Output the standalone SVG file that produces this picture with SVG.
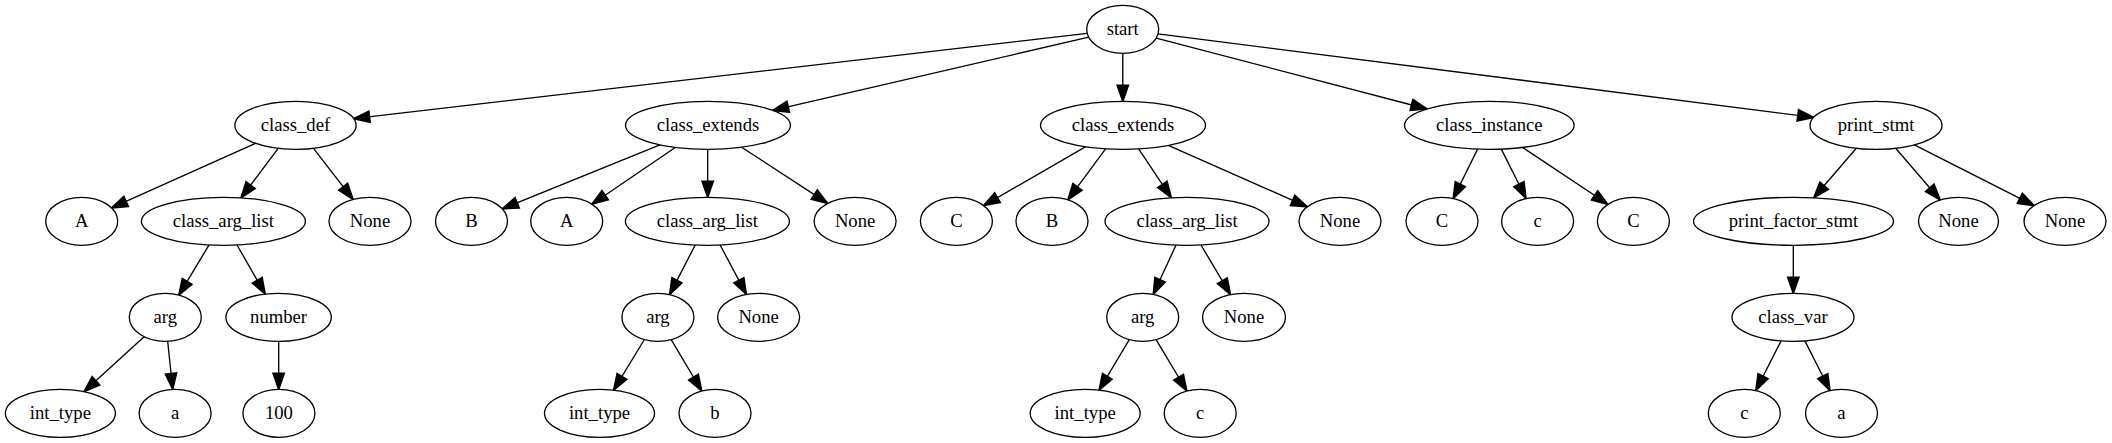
<svg xmlns="http://www.w3.org/2000/svg" width="2112" height="443" viewBox="0 0 2112 443">
<style>
.n ellipse{fill:#fff;stroke:#000;stroke-width:1.33}
.n text{font-family:"Liberation Serif","Times New Roman",serif;font-size:18.67px;text-anchor:middle;fill:#000}
#edges path{fill:none;stroke:#000;stroke-width:1.33;marker-end:url(#ah)}
</style>
<defs>
<marker id="ah" markerUnits="userSpaceOnUse" markerWidth="16" markerHeight="12" viewBox="0 0 13.33 9.33" refX="13.33" refY="4.67" orient="auto" overflow="visible">
<path d="M0,0 L13.33,4.67 L0,9.33 z" fill="#000" stroke="#000" stroke-width="1.33"/>
</marker>
</defs>
<rect width="2112" height="443" fill="#fff"/>
<g id="edges">
<path d="M1087.2,33.4 L353.6,118.6"/>
<path d="M1088.7,37.2 L772.6,110.4"/>
<path d="M1122.8,53.3 L1122.8,101.3"/>
<path d="M1156.2,38.1 L1427,109"/>
<path d="M1158,33.8 L1813.7,117.4"/>
<path d="M255.5,143.3 L111.5,207.9"/>
<path d="M278.2,148.3 L241,197.9"/>
<path d="M313.3,148.2 L353,199.4"/>
<path d="M659.9,144.8 L502.3,208.8"/>
<path d="M675.6,147.3 L591.9,204.2"/>
<path d="M707.7,149.3 L707.7,197.3"/>
<path d="M741.6,147.2 L827.7,203.4"/>
<path d="M1085.8,146.7 L983.6,205.6"/>
<path d="M1105.6,148.8 L1067.9,199.8"/>
<path d="M1138.7,148.8 L1171.3,197.8"/>
<path d="M1168.3,145.4 L1307.3,206.8"/>
<path d="M1477.6,149.1 L1453.2,198.5"/>
<path d="M1501.3,149.1 L1526.1,198.5"/>
<path d="M1522.5,147.4 L1607.9,204.3"/>
<path d="M1856.3,148.2 L1813.7,197.8"/>
<path d="M1895.7,148.2 L1940.2,200"/>
<path d="M1914.4,144.8 L2034.1,205.6"/>
<path d="M209.1,244.9 L178.8,295.1"/>
<path d="M237,245 L265.2,294.1"/>
<path d="M695.2,245 L669.6,294.6"/>
<path d="M720.1,245 L746.4,294.4"/>
<path d="M1176,245.1 L1153.3,294.3"/>
<path d="M1201,245 L1230.5,294.6"/>
<path d="M1793.3,245.3 L1793.3,293.3"/>
<path d="M144.1,336.7 L84.1,391.6"/>
<path d="M167.7,341.2 L172.7,389.4"/>
<path d="M278.7,341.3 L278.7,389.3"/>
<path d="M644.4,339.5 L613.6,390.1"/>
<path d="M671.2,339.6 L701.7,391"/>
<path d="M1129.3,339.6 L1099.1,390.1"/>
<path d="M1156.1,339.6 L1186.8,391"/>
<path d="M1781.1,340.9 L1755.8,390.5"/>
<path d="M1804.9,340.9 L1830,390.5"/>
</g>
<g id="n0" class="n"><ellipse cx="1122.7" cy="29.3" rx="36" ry="24"/><text x="1122.7" y="34.9">start</text></g>
<g id="n1" class="n"><ellipse cx="295.5" cy="125.3" rx="60.6" ry="24"/><text x="295.5" y="130.9">class_def</text></g>
<g id="n2" class="n"><ellipse cx="708" cy="125.3" rx="82.5" ry="24"/><text x="708" y="130.9">class_extends</text></g>
<g id="n3" class="n"><ellipse cx="1123" cy="125.3" rx="82.5" ry="24"/><text x="1123" y="130.9">class_extends</text></g>
<g id="n4" class="n"><ellipse cx="1489.3" cy="125.3" rx="84.8" ry="24"/><text x="1489.3" y="130.9">class_instance</text></g>
<g id="n5" class="n"><ellipse cx="1876" cy="125.3" rx="66" ry="24"/><text x="1876" y="130.9">print_stmt</text></g>
<g id="n6" class="n"><ellipse cx="81.7" cy="221.3" rx="36" ry="24"/><text x="81.7" y="226.9">A</text></g>
<g id="n7" class="n"><ellipse cx="223.4" cy="221.3" rx="82" ry="24"/><text x="223.4" y="226.9">class_arg_list</text></g>
<g id="n8" class="n"><ellipse cx="370" cy="221.3" rx="41" ry="24"/><text x="370" y="226.9">None</text></g>
<g id="n9" class="n"><ellipse cx="471.5" cy="221.3" rx="36" ry="24"/><text x="471.5" y="226.9">B</text></g>
<g id="n10" class="n"><ellipse cx="566.7" cy="221.3" rx="36" ry="24"/><text x="566.7" y="226.9">A</text></g>
<g id="n11" class="n"><ellipse cx="707.4" cy="221.3" rx="82" ry="24"/><text x="707.4" y="226.9">class_arg_list</text></g>
<g id="n12" class="n"><ellipse cx="855.1" cy="221.3" rx="41" ry="24"/><text x="855.1" y="226.9">None</text></g>
<g id="n13" class="n"><ellipse cx="956.4" cy="221.3" rx="36" ry="24"/><text x="956.4" y="226.9">C</text></g>
<g id="n14" class="n"><ellipse cx="1052" cy="221.3" rx="36" ry="24"/><text x="1052" y="226.9">B</text></g>
<g id="n15" class="n"><ellipse cx="1187" cy="221.3" rx="82" ry="24"/><text x="1187" y="226.9">class_arg_list</text></g>
<g id="n16" class="n"><ellipse cx="1340" cy="221.3" rx="41" ry="24"/><text x="1340" y="226.9">None</text></g>
<g id="n17" class="n"><ellipse cx="1442" cy="221.3" rx="36" ry="24"/><text x="1442" y="226.9">C</text></g>
<g id="n18" class="n"><ellipse cx="1537.6" cy="221.3" rx="36" ry="24"/><text x="1537.6" y="226.9">c</text></g>
<g id="n19" class="n"><ellipse cx="1633.4" cy="221.3" rx="36" ry="24"/><text x="1633.4" y="226.9">C</text></g>
<g id="n20" class="n"><ellipse cx="1793.5" cy="221.3" rx="100" ry="24"/><text x="1793.5" y="226.9">print_factor_stmt</text></g>
<g id="n21" class="n"><ellipse cx="1958.5" cy="221.3" rx="40" ry="24"/><text x="1958.5" y="226.9">None</text></g>
<g id="n22" class="n"><ellipse cx="2065" cy="221.3" rx="41" ry="24"/><text x="2065" y="226.9">None</text></g>
<g id="n23" class="n"><ellipse cx="165.3" cy="317.3" rx="36" ry="24"/><text x="165.3" y="322.9">arg</text></g>
<g id="n24" class="n"><ellipse cx="278.6" cy="317.3" rx="52.7" ry="24"/><text x="278.6" y="322.9">number</text></g>
<g id="n25" class="n"><ellipse cx="657.9" cy="317.3" rx="36" ry="24"/><text x="657.9" y="322.9">arg</text></g>
<g id="n26" class="n"><ellipse cx="758.6" cy="317.3" rx="41" ry="24"/><text x="758.6" y="322.9">None</text></g>
<g id="n27" class="n"><ellipse cx="1142.7" cy="317.3" rx="36" ry="24"/><text x="1142.7" y="322.9">arg</text></g>
<g id="n28" class="n"><ellipse cx="1244" cy="317.3" rx="41.5" ry="24"/><text x="1244" y="322.9">None</text></g>
<g id="n29" class="n"><ellipse cx="1793" cy="317.3" rx="61" ry="24"/><text x="1793" y="322.9">class_var</text></g>
<g id="n30" class="n"><ellipse cx="60.4" cy="413.3" rx="55" ry="24"/><text x="60.4" y="418.9">int_type</text></g>
<g id="n31" class="n"><ellipse cx="175.1" cy="413.3" rx="36" ry="24"/><text x="175.1" y="418.9">a</text></g>
<g id="n32" class="n"><ellipse cx="278.9" cy="413.3" rx="36" ry="24"/><text x="278.9" y="418.9">100</text></g>
<g id="n33" class="n"><ellipse cx="599.5" cy="413.3" rx="55" ry="24"/><text x="599.5" y="418.9">int_type</text></g>
<g id="n34" class="n"><ellipse cx="715" cy="413.3" rx="36" ry="24"/><text x="715" y="418.9">b</text></g>
<g id="n35" class="n"><ellipse cx="1085.2" cy="413.3" rx="55" ry="24"/><text x="1085.2" y="418.9">int_type</text></g>
<g id="n36" class="n"><ellipse cx="1200.2" cy="413.3" rx="36" ry="24"/><text x="1200.2" y="418.9">c</text></g>
<g id="n37" class="n"><ellipse cx="1744.3" cy="413.3" rx="36" ry="24"/><text x="1744.3" y="418.9">c</text></g>
<g id="n38" class="n"><ellipse cx="1841.5" cy="413.3" rx="36" ry="24"/><text x="1841.5" y="418.9">a</text></g>
</svg>
